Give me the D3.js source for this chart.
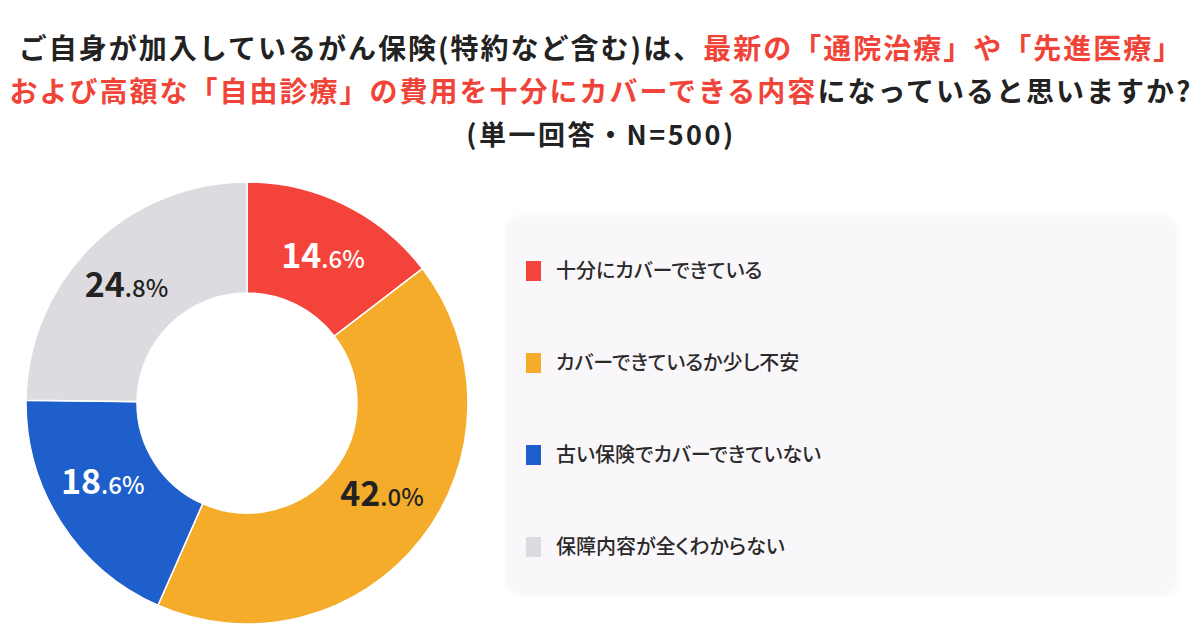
<!DOCTYPE html>
<html>
<head>
<meta charset="utf-8">
<script src="https://cdn.jsdelivr.net/npm/d3@7"></script>
<style>
  body { margin: 0; background: #fff; }
  svg text { font-family: "Noto Sans CJK JP", "Noto Sans", sans-serif; }
</style>
</head>
<body>
<div id="outer"></div>
<script>
////////// DATA //////////
const categories = ['十分にカバーできている', 'カバーできているか少し不安', '古い保険でカバーできていない', '保障内容が全くわからない'];
const values = [14.6, 42.0, 18.6, 24.8];
const colors = ['#f4433b', '#f5ac2b', '#1f5fcc', '#dedbe0'];
const labelColors = ['#ffffff', '#222222', '#ffffff', '#222222'];

// title pieces: [text, isRed]
const titleLine1 = [['ご自身が加入しているがん保険(特約など含む)は、', false], ['最新の「通院治療」や「先進医療」', true]];
const titleLine2 = [['および高額な「自由診療」の費用を十分にカバーできる内容', true], ['になっていると思いますか?', false]];
const titleLine3 = '(単一回答・N=500)';

////////// SIZING //////////
const width = 1200, height = 630;
const cx = 247, cy = 403;
const outerR = 221, innerR = 110;

const svg = d3.select('#outer').append('svg')
	.attr('width', width)
	.attr('height', height);

svg.append('rect').attr('width', width).attr('height', height).attr('fill', '#fff');

// TITLE //
const titleGroup = svg.append('g').attr('class', 'title');
[titleLine1, titleLine2].forEach((line, i) => {
	const t = titleGroup.append('text')
		.attr('x', width / 2 + 1)
		.attr('y', 59 + i * 43)
		.attr('text-anchor', 'middle')
		.attr('font-size', 28)
		.attr('letter-spacing', 2)
		.attr('font-weight', 700);
	line.forEach(([s, red]) => {
		t.append('tspan').text(s).attr('fill', red ? '#f04438' : '#222222');
	});
});
titleGroup.append('text')
	.attr('x', width / 2 + 1)
	.attr('y', 145)
	.attr('text-anchor', 'middle')
	.attr('font-size', 27)
	.attr('letter-spacing', 2.5)
	.attr('font-weight', 700)
	.attr('fill', '#222222')
	.text(titleLine3);

// DONUT //
const pie = d3.pie().sort(null).value(d => d)(values);
const arc = d3.arc().innerRadius(innerR).outerRadius(outerR);
const labelArc = d3.arc().innerRadius(165).outerRadius(165);

const donut = svg.append('g').attr('transform', `translate(${cx},${cy})`);
donut.selectAll('path.slice')
	.data(pie)
	.join('path')
	.attr('class', 'slice')
	.attr('d', arc)
	.attr('fill', (d, i) => colors[i])
	.attr('stroke', '#fff')
	.attr('stroke-width', 1.5);

// labels sit a little wider than tall around the ring
const labelPos = d => {
	const c = labelArc.centroid(d);
	return [c[0] * 1.04, c[1] * 0.95];
};
const labels = donut.selectAll('text.pct')
	.data(pie)
	.join('text')
	.attr('class', 'pct')
	.attr('transform', d => `translate(${labelPos(d)})`)
	.attr('text-anchor', 'middle')
	.attr('dy', '0.36em')
	.attr('font-weight', 700)
	.attr('fill', (d, i) => labelColors[i]);
labels.append('tspan')
	.attr('font-size', 34)
	.text(d => Math.floor(d.data));
labels.append('tspan')
	.attr('font-size', 24)
	.attr('font-weight', 500)
	.text(d => '.' + d.data.toFixed(1).split('.')[1] + '%');

// LEGEND //
const defs = svg.append('defs');
const f = defs.append('filter').attr('id', 'shadow').attr('x', '-5%').attr('y', '-5%').attr('width', '110%').attr('height', '110%');
f.append('feDropShadow').attr('dx', 0).attr('dy', 1).attr('stdDeviation', 3).attr('flood-color', '#000').attr('flood-opacity', 0.06);

const legend = svg.append('g').attr('transform', 'translate(508,217)');
legend.append('rect')
	.attr('width', 667)
	.attr('height', 375)
	.attr('rx', 10)
	.attr('fill', '#faf7fb')
	.attr('filter', 'url(#shadow)');

const rowY = d3.scalePoint().domain(categories).range([54, 330]);
const rows = legend.selectAll('g.row')
	.data(categories)
	.join('g')
	.attr('class', 'row')
	.attr('transform', d => `translate(0,${rowY(d)})`);
rows.append('rect')
	.attr('x', 18)
	.attr('y', -10)
	.attr('width', 15)
	.attr('height', 20)
	.attr('fill', (d, i) => colors[i]);
rows.append('text')
	.attr('x', 48)
	.attr('dy', '0.36em')
	.attr('font-size', 20)
	.attr('font-weight', 500)
	.style('font-feature-settings', '"palt"')
	.attr('fill', '#2a2a2a')
	.text(d => d);
</script>
</body>
</html>
